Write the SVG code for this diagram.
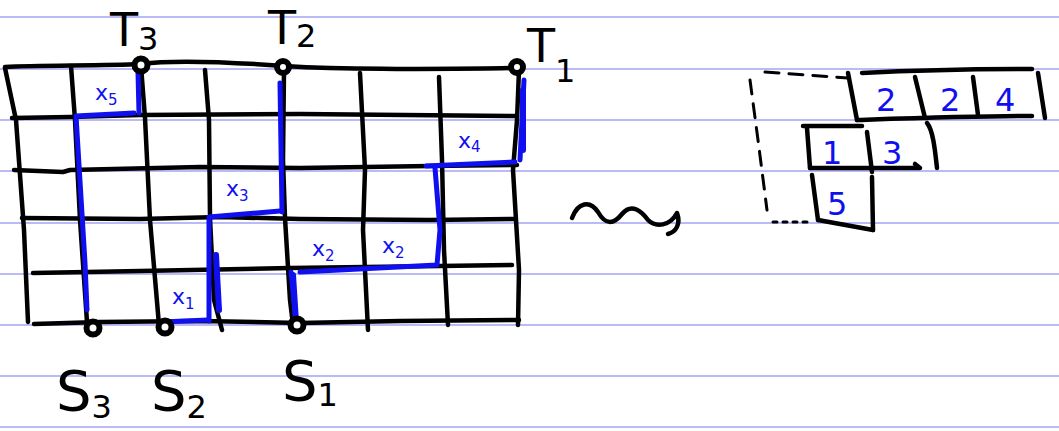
<svg xmlns="http://www.w3.org/2000/svg" width="1059" height="431" viewBox="0 0 1059 431">
<style>
.rule{stroke:#a3a3f5;stroke-width:1.6;fill:none}
.ink{stroke:#000;stroke-width:4.5;fill:none;stroke-linecap:round;stroke-linejoin:round}
.thin{stroke:#000;stroke-width:3;fill:none;stroke-linecap:round}
.dash{stroke:#000;stroke-width:3;fill:none;stroke-dasharray:14 10;stroke-linecap:round}
.blue{stroke:#0f0ff0;stroke-width:5;fill:none;stroke-linecap:round;stroke-linejoin:round}
.dot{fill:#fff;stroke:#000;stroke-width:6}
.lbl{font-family:"DejaVu Sans",sans-serif;fill:#000}
.bl{font-family:"DejaVu Sans",sans-serif;fill:#0f0ff0}
</style>
<rect width="1059" height="431" fill="#fff"/>
<g id="rules">
<line class="rule" x1="0" y1="17" x2="1059" y2="17"/>
<line class="rule" x1="0" y1="69" x2="1059" y2="69"/>
<line class="rule" x1="0" y1="120" x2="1059" y2="120"/>
<line class="rule" x1="0" y1="171" x2="1059" y2="171"/>
<line class="rule" x1="0" y1="223" x2="1059" y2="223"/>
<line class="rule" x1="0" y1="274" x2="1059" y2="274"/>
<line class="rule" x1="0" y1="325" x2="1059" y2="325"/>
<line class="rule" x1="0" y1="376" x2="1059" y2="376"/>
<line class="rule" x1="0" y1="427" x2="1059" y2="427"/>
</g>
<g id="grid">
<path class="ink" d="M5,67 C40,65 100,66 141,64 C170,60 230,62 284,66 C350,70 420,69 517,68"/>
<path class="ink" d="M5,68 L16,120 L20,175 L24,230 L28,322"/>
<path class="ink" d="M71,66 L75,120 L80,220 L87,322"/>
<path class="ink" d="M141,66 L145,118 L150,220 L159,325"/>
<path class="ink" d="M205,70 L209,120 L210,218 L214,300 L222,330"/>
<path class="ink" d="M284,70 L283,160 L285,218 L290,300 L293,325"/>
<path class="ink" d="M360,73 L365,170 L363,230 L368,330"/>
<path class="ink" d="M439,77 L442,160 L444,250 L448,325"/>
<path class="ink" d="M519,70 L517,120 L513,170 L516,220 L519,270 L518,325"/>
<path class="ink" d="M12,118 L70,117 L140,115 L300,114 L517,116"/>
<path class="ink" d="M14,170 L63,172 L70,170 L200,167 L300,168 L430,166 L517,165"/>
<path class="ink" d="M22,218 L140,219 L220,217 L300,219 L430,220 L514,219"/>
<path class="ink" d="M33,273 L140,271 L290,268 L440,266 L512,265"/>
<path class="ink" d="M34,324 L100,322 L200,321 L300,323 L400,321 L519,320"/>
</g>
<g id="paths">
<path class="blue" d="M87,310 L85,263 L76,116 L134,113"/>
<path class="blue" d="M139,113 L138,72"/>
<path class="blue" d="M162,322 L208,320"/>
<path class="blue" d="M209,321 L209,217 L280,211"/>
<path class="blue" d="M216,255 L219,310" style="stroke-width:6"/>
<path class="blue" d="M282,212 L280,83"/>
<path class="blue" d="M296,323 L291,272 M300,272 L437,265 L440,230 L435,168 M426,166 L515,162 M520,160 L524,80"/>
<path class="blue" d="M293,275 L296,322" style="stroke-width:6"/>
<path class="blue" d="M523,90 L523,150" style="stroke-width:6"/>
</g>
<g id="dots">
<circle class="dot" cx="141" cy="65" r="6.5"/>
<circle class="dot" cx="283" cy="67" r="6"/>
<circle class="dot" cx="517" cy="67" r="6"/>
<circle class="dot" cx="93" cy="328" r="6.5"/>
<circle class="dot" cx="165" cy="327" r="6.5"/>
<circle class="dot" cx="297" cy="325" r="6.5"/>
</g>
<g id="labels">
<text class="lbl" x="110" y="46" font-size="46">T<tspan font-size="32" dy="4">3</tspan></text>
<text class="lbl" x="268" y="44" font-size="46">T<tspan font-size="32" dy="3">2</tspan></text>
<text class="lbl" x="527" y="62" font-size="46">T<tspan font-size="32" dy="20">1</tspan></text>
<text class="lbl" x="56" y="410" font-size="56">S<tspan font-size="32" dy="8">3</tspan></text>
<text class="lbl" x="151" y="410" font-size="56">S<tspan font-size="32" dy="8">2</tspan></text>
<text class="lbl" x="282" y="400" font-size="56">S<tspan font-size="32" dy="6">1</tspan></text>
</g>
<g id="xlabels">
<text class="bl" x="95" y="100" font-size="22">x<tspan font-size="15" dy="5">5</tspan></text>
<text class="bl" x="172" y="304" font-size="22">x<tspan font-size="15" dy="5">1</tspan></text>
<text class="bl" x="226" y="196" font-size="22">x<tspan font-size="15" dy="5">3</tspan></text>
<text class="bl" x="312" y="256" font-size="22">x<tspan font-size="15" dy="5">2</tspan></text>
<text class="bl" x="382" y="253" font-size="22">x<tspan font-size="15" dy="5">2</tspan></text>
<text class="bl" x="458" y="148" font-size="22">x<tspan font-size="15" dy="4">4</tspan></text>
</g>
<g id="squiggle">
<path class="ink" d="M572,218 C578,202 590,200 598,212 C606,226 614,224 622,214 C632,202 642,212 648,220 C656,228 670,226 677,213 C681,224 676,232 668,234"/>
</g>
<g id="tableau">
<path class="dash" d="M765,72 L848,78"/>
<path class="dash" d="M750,80 L758,140 L767,210"/>
<path class="thin" d="M773,222 L807,222" stroke-dasharray="4 6"/>
<path class="ink" d="M862,73 C920,70 980,69 1032,69"/>
<path class="ink" d="M857,120 C920,118 980,116 1032,116"/>
<path class="ink" d="M848,73 L857,120"/>
<path class="ink" d="M915,77 L925,118"/>
<path class="ink" d="M973,77 L978,115"/>
<path class="ink" d="M1038,73 L1045,118"/>
<path class="ink" d="M803,126 L862,126"/>
<path class="ink" d="M807,128 L810,168"/>
<path class="ink" d="M867,132 L872,172"/>
<path class="ink" d="M927,123 C933,130 935,150 937,168"/>
<path class="ink" d="M810,168 L920,168 L915,164"/>
<path class="ink" d="M812,175 L818,220"/>
<path class="ink" d="M872,177 L873,230"/>
<path class="ink" d="M818,220 L873,230"/>
<text class="bl" x="876" y="111" font-size="32">2</text>
<text class="bl" x="940" y="111" font-size="32">2</text>
<text class="bl" x="995" y="111" font-size="32">4</text>
<text class="bl" x="822" y="164" font-size="32">1</text>
<text class="bl" x="882" y="164" font-size="32">3</text>
<text class="bl" x="827" y="215" font-size="32">5</text>
</g>
</svg>
